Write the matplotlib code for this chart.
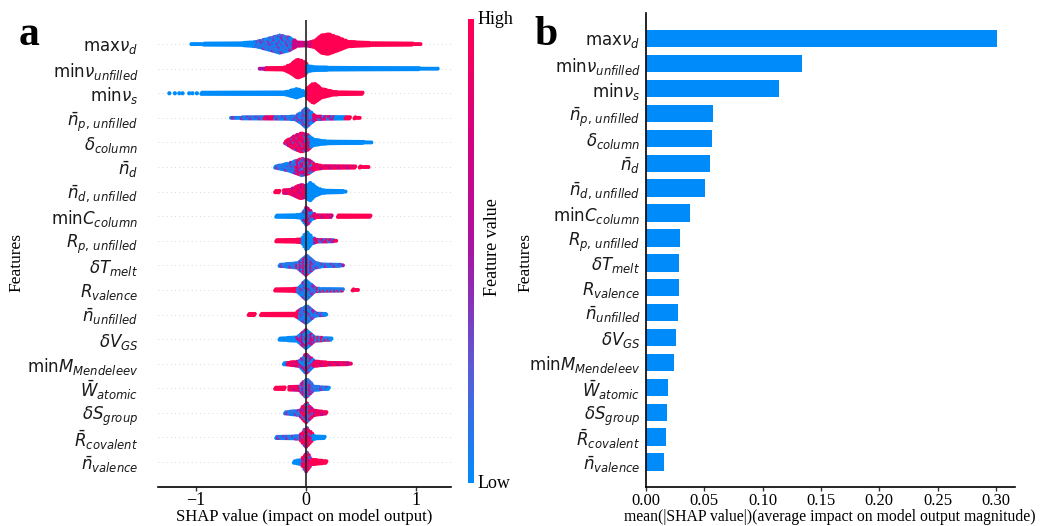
import numpy as np
import matplotlib
matplotlib.use("Agg")
import matplotlib.pyplot as plt
from matplotlib.colors import LinearSegmentedColormap
from matplotlib.cm import ScalarMappable

# ======= feature names (top -> bottom) =======
FEATURES = [
    r"max$\nu_d$", r"min$\nu_{unfilled}$", r"min$\nu_s$", r"$\bar{n}_{p,\,unfilled}$",
    r"$\delta_{column}$", r"$\bar{n}_d$", r"$\bar{n}_{d,\,unfilled}$", r"min$C_{column}$",
    r"$R_{p,\,unfilled}$", r"$\delta T_{melt}$", r"$R_{valence}$", r"$\bar{n}_{unfilled}$",
    r"$\delta V_{GS}$", r"min$M_{Mendeleev}$", r"$\bar{W}_{atomic}$", r"$\delta S_{group}$",
    r"$\bar{R}_{covalent}$", r"$\bar{n}_{valence}$",
]

# ======= panel b: mean |SHAP| =======
MEAN_ABS_SHAP = [0.301, 0.134, 0.114, 0.0577, 0.0568, 0.0549, 0.0506, 0.0374, 0.0294,
                 0.0283, 0.0280, 0.0271, 0.0257, 0.0243, 0.0186, 0.0183, 0.0169, 0.0154]
BAR_TICKS = [0.00, 0.05, 0.10, 0.15, 0.20, 0.25, 0.30]

# ======= panel a: beeswarm outlines =======
# knots: SHAP value and half height of the swarm (in row units)
ENV_X = [
    [-1.04, -0.6, -0.45, -0.3, -0.24, -0.15, -0.08, 0.0, 0.08, 0.14, 0.2, 0.28, 0.38, 0.6, 1.05],
    [-0.42, -0.2, -0.14, -0.076, -0.02, 0.02, 0.1, 0.5, 1.2],
    [-0.95, -0.19, -0.085, -0.01, 0.006, 0.067, 0.14, 0.25, 0.506],
    [-0.68, -0.3, -0.1, -0.04, 0.0, 0.04, 0.09, 0.3, 0.49],
    [-0.19, -0.1, -0.04, 0.02, 0.06, 0.15, 0.3, 0.6],
    [-0.28, -0.15, -0.04, 0.02, 0.08, 0.15, 0.57],
    [-0.28, -0.15, -0.05, 0.0, 0.036, 0.08, 0.15, 0.37],
    [-0.27, -0.05, 0.006, 0.05, 0.1, 0.58],
    [-0.27, -0.04, 0.006, 0.05, 0.1, 0.28],
    [-0.24, -0.08, 0.0, 0.08, 0.15, 0.34],
    [-0.28, -0.08, 0.0, 0.08, 0.48],
    [-0.52, -0.1, 0.0, 0.08, 0.19],
    [-0.24, -0.08, 0.0, 0.08, 0.23],
    [-0.2, -0.06, 0.0, 0.07, 0.2, 0.42],
    [-0.28, -0.06, 0.0, 0.07, 0.2],
    [-0.19, -0.06, 0.0, 0.07, 0.19],
    [-0.27, -0.06, 0.0, 0.07, 0.17],
    [-0.11, -0.04, 0.0, 0.05, 0.19],
]
ENV_H = [
    [0.04, 0.06, 0.12, 0.3, 0.38, 0.28, 0.1, 0.08, 0.15, 0.38, 0.43, 0.3, 0.12, 0.07, 0.04],
    [0.04, 0.07, 0.2, 0.4, 0.3, 0.12, 0.08, 0.06, 0.04],
    [0.05, 0.07, 0.2, 0.08, 0.2, 0.43, 0.2, 0.08, 0.05],
    [0.04, 0.06, 0.08, 0.25, 0.42, 0.25, 0.08, 0.06, 0.04],
    [0.06, 0.3, 0.4, 0.32, 0.15, 0.08, 0.06, 0.04],
    [0.05, 0.18, 0.36, 0.3, 0.12, 0.07, 0.04],
    [0.05, 0.1, 0.3, 0.25, 0.4, 0.2, 0.08, 0.04],
    [0.05, 0.08, 0.4, 0.15, 0.07, 0.05],
    [0.05, 0.08, 0.4, 0.15, 0.07, 0.04],
    [0.05, 0.12, 0.42, 0.12, 0.07, 0.04],
    [0.05, 0.08, 0.42, 0.08, 0.04],
    [0.05, 0.07, 0.38, 0.08, 0.04],
    [0.05, 0.1, 0.4, 0.1, 0.05],
    [0.05, 0.12, 0.42, 0.12, 0.07, 0.04],
    [0.05, 0.1, 0.4, 0.1, 0.05],
    [0.05, 0.12, 0.42, 0.12, 0.05],
    [0.05, 0.08, 0.42, 0.08, 0.05],
    [0.06, 0.12, 0.42, 0.12, 0.06],
]
# colour bands along each row: (from, to, colour code); None = gap
BANDS = [
    [(-1.1, -0.45, "b"), (-0.45, -0.12, "bp"), (-0.12, 0.05, "pr"), (0.05, 1.1, "r")],
    [(-0.45, -0.37, "p"), (-0.37, 0.01, "r"), (0.01, 1.25, "b")],
    [(-1.0, 0.0, "b"), (0.0, 0.55, "r")],
    [(-0.75, -0.38, "bp"), (-0.38, -0.28, "rp"), (-0.28, -0.1, "bp"), (-0.1, 0.06, "bpb"),
     (0.06, 0.26, "m"), (0.26, 0.36, "b"), (0.36, 0.4, "r"), (0.4, 0.43, None), (0.43, 0.5, "r")],
    [(-0.2, 0.0, "rpm"), (0.0, 0.04, "m"), (0.04, 0.65, "b")],
    [(-0.3, -0.1, "bp"), (-0.1, 0.06, "m"), (0.06, 0.45, "rp"), (0.45, 0.48, None), (0.48, 0.6, "r")],
    [(-0.3, -0.24, "r"), (-0.24, -0.21, None), (-0.21, 0.0, "rp"), (0.0, 0.4, "b")],
    [(-0.3, -0.02, "b"), (-0.02, 0.07, "bpm"), (0.07, 0.23, "rp"), (0.23, 0.29, None), (0.29, 0.6, "r")],
    [(-0.3, -0.03, "r"), (-0.03, 0.07, "b"), (0.07, 0.3, "m")],
    [(-0.25, -0.08, "bp"), (-0.08, 0.08, "pm"), (0.08, 0.35, "bp")],
    [(-0.3, -0.08, "r"), (-0.08, 0.08, "bp"), (0.08, 0.33, "rb"), (0.33, 0.42, None), (0.42, 0.5, "r")],
    [(-0.53, -0.46, "r"), (-0.46, -0.41, None), (-0.41, -0.06, "r"), (-0.06, 0.2, "bp")],
    [(-0.25, -0.08, "b"), (-0.08, 0.08, "bpm"), (0.08, 0.24, "rb")],
    [(-0.21, -0.17, "b"), (-0.17, -0.06, "rp"), (-0.06, 0.06, "bpm"), (0.06, 0.42, "rp")],
    [(-0.29, -0.19, "r"), (-0.19, -0.16, None), (-0.16, -0.06, "rp"), (-0.06, 0.06, "pm"), (0.06, 0.21, "bp")],
    [(-0.2, -0.06, "bp"), (-0.06, 0.07, "rm"), (0.07, 0.2, "rp")],
    [(-0.28, -0.06, "bp"), (-0.06, 0.06, "rpm"), (0.06, 0.18, "b")],
    [(-0.12, -0.03, "b"), (-0.03, 0.05, "rpm"), (0.05, 0.2, "r")],
]
# isolated far-left points of minν_s
SPARSE_X = [-1.24, -1.19, -1.15, -1.12, -1.06, -1.03, -0.99]
SPARSE_ROW = 2
SPARSE_C = 0.0

PALETTE = {
    "b": [0.0], "r": [1.0], "p": [0.55],
    "bp": [0.0, 0.3, 0.0, 0.45, 0.1], "bpb": [0.0, 0.0, 0.35],
    "rp": [1.0, 0.7, 1.0, 0.55, 0.9], "pr": [0.55, 0.85, 0.7],
    "m": [0.0, 0.5, 1.0, 0.3, 0.8], "bpm": [0.0, 0.1, 0.4, 0.0, 0.7],
    "rpm": [1.0, 0.6, 1.0, 0.3, 0.9], "pm": [0.5, 0.2, 0.8, 0.4, 1.0, 0.1],
    "rb": [1.0, 0.0, 0.9, 0.1], "rm": [1.0, 0.9, 0.5, 1.0, 0.2],
}

DX = 0.016   # spacing of dots along a row
DY = 0.06    # spacing of dots across a row

cmap = LinearSegmentedColormap.from_list(
    "red_blue", ["#008bfb", "#5c5ad6", "#a814a4", "#d6007c", "#ff0052"])

SERIF = ["Liberation Serif", "DejaVu Serif"]
plt.rcParams["mathtext.fontset"] = "dejavusans"


def swarm(row_y, kx, kh, bands):
    xs, ys, cs = [], [], []
    grid = np.arange(kx[0], kx[-1] + 1e-9, DX)
    for i, x in enumerate(grid):
        code = None
        for lo, hi, cc in bands:
            if lo <= x < hi:
                code = cc
                break
        if code is None:
            continue
        h = np.interp(x, kx, kh)
        n = max(1, int(round(2 * h / DY)))
        offs = (np.arange(n) - (n - 1) / 2) * (2 * h / n) if n > 1 else [0.0]
        cyc = PALETTE[code]
        for j, o in enumerate(offs):
            xs.append(x + (j % 2) * DX / 2)
            ys.append(row_y + o)
            cs.append(cyc[(i * 13 + j * 7 + i * j) % len(cyc)])
    return xs, ys, cs


fig = plt.figure(figsize=(10.59, 5.26), dpi=100)
n = len(FEATURES)
ypos = np.arange(n)[::-1]

# ---------- panel a ----------
ax1 = fig.add_axes([0.149, 0.0749, 0.277, 0.888])
for k in range(n):
    ax1.axhline(ypos[k], color="#cccccc", lw=0.6, dashes=(1, 4), zorder=0)
    xs, ys, cs = swarm(ypos[k], ENV_X[k], ENV_H[k], BANDS[k])
    ax1.scatter(xs, ys, c=cs, cmap=cmap, vmin=0, vmax=1, s=8, linewidths=0, zorder=2)
ax1.scatter(SPARSE_X, [ypos[SPARSE_ROW]] * len(SPARSE_X), c=[SPARSE_C] * len(SPARSE_X),
            cmap=cmap, vmin=0, vmax=1, s=9, linewidths=0, zorder=2)
ax1.axvline(0, color="#222222", lw=1.2, zorder=3)
ax1.set_xlim(-1.345, 1.318)
ax1.set_ylim(-1, n)
ax1.set_yticks(ypos)
ax1.set_yticklabels(FEATURES, fontsize=12, color="#1a1a1a")
ax1.tick_params(axis="y", length=0, pad=14)
ax1.set_xticks([-1, 0, 1])
ax1.set_xticklabels(["\u22121", "0", "1"], family=SERIF, fontsize=13)
ax1.tick_params(axis="x", length=3, width=1, color="#333333", pad=1)
for s in ["top", "right", "left"]:
    ax1.spines[s].set_visible(False)
ax1.spines["bottom"].set_linewidth(1.2)
ax1.set_xlabel("SHAP value (impact on model output)", family=SERIF, fontsize=12, labelpad=0)
fig.text(0.008, 0.5, "Features", rotation=90, family=SERIF, fontsize=12.5, va="center", ha="left")
fig.text(0.018, 0.915, "a", family=SERIF, fontsize=30, fontweight="bold")

# colour bar
cax = fig.add_axes([0.442, 0.0817, 0.0057, 0.882])
cb = fig.colorbar(ScalarMappable(cmap=cmap), cax=cax, ticks=[])
cb.outline.set_visible(False)
cax.text(1.6, 1.0, "High", transform=cax.transAxes, family=SERIF, fontsize=13, va="center", ha="left")
cax.text(1.6, 0.0, "Low", transform=cax.transAxes, family=SERIF, fontsize=13, va="center", ha="left")
fig.text(0.465, 0.53, "Feature value", rotation=90, family=SERIF, fontsize=13, va="center", ha="center")

# ---------- panel b ----------
ax2 = fig.add_axes([0.610, 0.0741, 0.348, 0.9006])
ax2.barh(ypos, MEAN_ABS_SHAP, height=0.7, color="#008bfb", zorder=2)
ax2.set_xlim(0, 0.316)
ax2.set_ylim(-1, n + 0.02)
ax2.set_yticks(ypos)
ax2.set_yticklabels(FEATURES, fontsize=12, color="#1a1a1a")
ax2.tick_params(axis="y", length=0, pad=4)
ax2.set_xticks(BAR_TICKS)
ax2.set_xticklabels([f"{v:.2f}" for v in BAR_TICKS], family=SERIF, fontsize=12)
ax2.tick_params(axis="x", length=3, width=1, color="#333333", pad=1)
for s in ["top", "right"]:
    ax2.spines[s].set_visible(False)
ax2.spines["left"].set_linewidth(1.2)
ax2.spines["bottom"].set_linewidth(1.2)
ax2.set_xlabel("mean(|SHAP value|)(average impact on model output magnitude)",
               family=SERIF, fontsize=11.3, labelpad=0)
fig.text(0.489, 0.5, "Features", rotation=90, family=SERIF, fontsize=12.5, va="center", ha="left")
fig.text(0.505, 0.915, "b", family=SERIF, fontsize=30, fontweight="bold")

fig.savefig("out.png", dpi=100)
